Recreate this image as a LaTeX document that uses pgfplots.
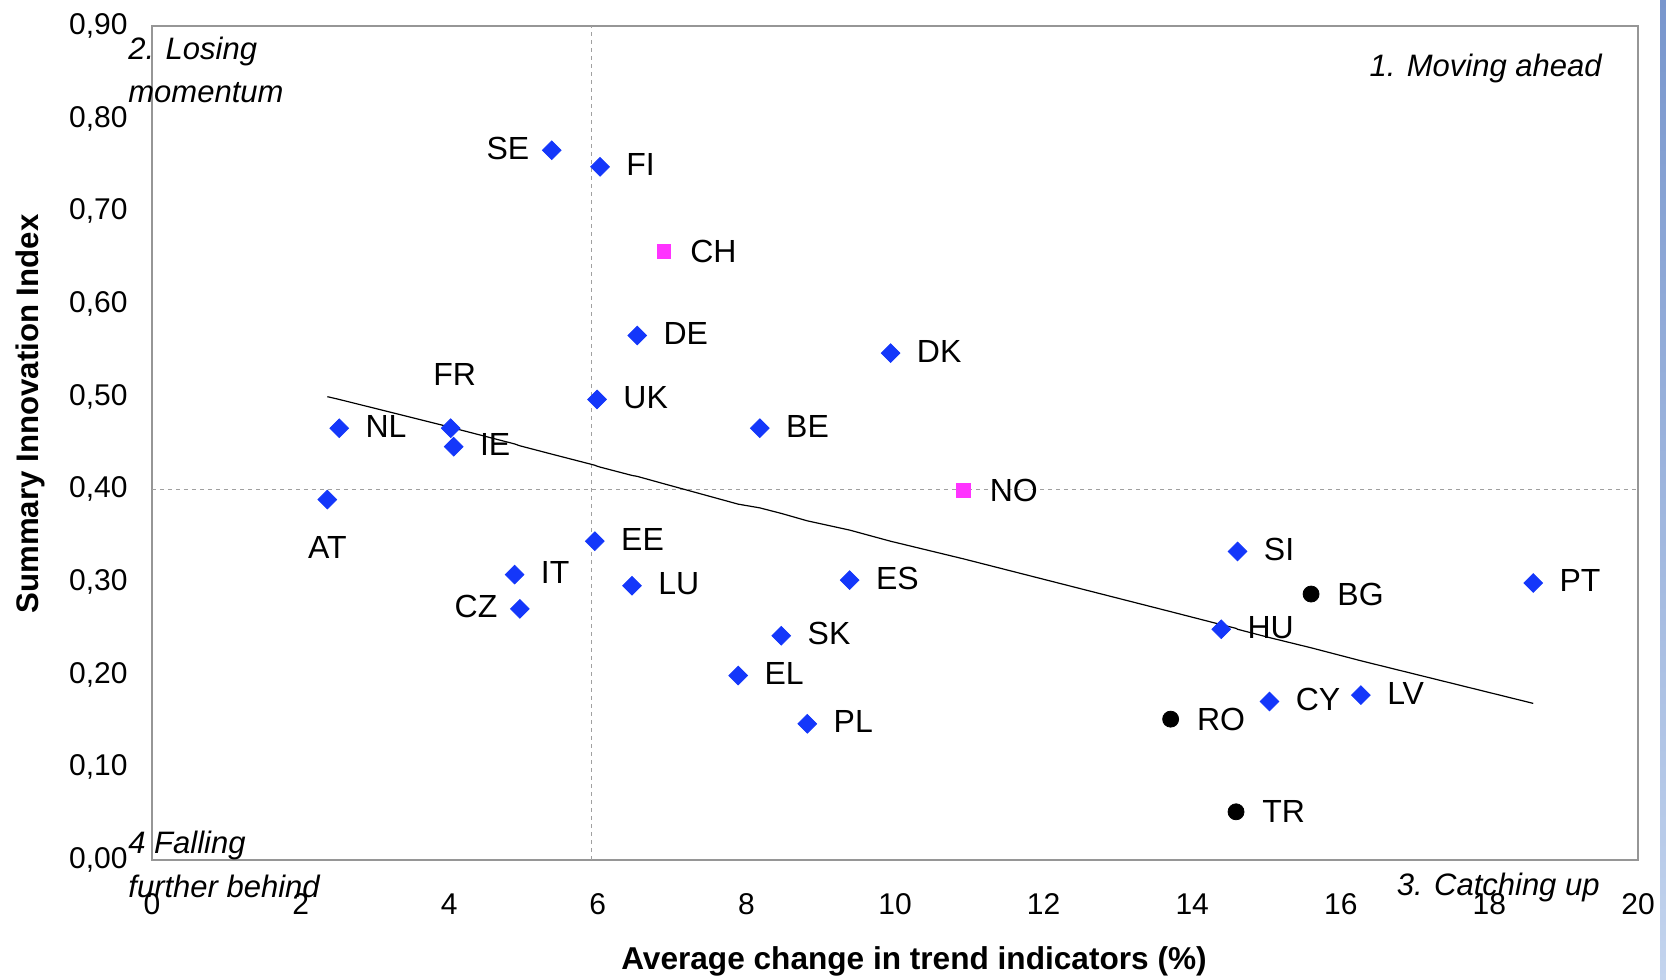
\documentclass[border=0pt]{standalone}
\usepackage{pgfplots}
\pgfplotsset{compat=1.18}
\usepackage{pgfplotstable}
\usepackage{fontspec}
\setmainfont{Liberation Sans}
\definecolor{eublue}{RGB}{20,55,250}
\definecolor{pinkm}{RGB}{255,51,255}
\definecolor{framegray}{RGB}{150,150,150}
\definecolor{gridgray}{RGB}{160,160,160}

\pgfplotstableread{
x y label
6.03 0.748 FI
6.53 0.566 DE
9.94 0.547 DK
5.99 0.497 UK
8.18 0.466 BE
4.06 0.446 IE
2.52 0.466 NL
5.96 0.344 EE
4.88 0.308 IT
6.46 0.296 LU
9.39 0.302 ES
8.47 0.242 SK
7.89 0.199 EL
8.82 0.147 PL
14.61 0.333 SI
14.39 0.249 HU
18.59 0.299 PT
15.04 0.171 CY
16.27 0.178 LV
}\bluer
\pgfplotstableread{
x y label
5.38 0.766 SE
4.95 0.271 CZ
}\bluel
\pgfplotstableread{
x y label
4.02 0.466 FR
}\blueabove
\pgfplotstableread{
x y label
2.36 0.389 AT
}\bluebelow
\pgfplotstableread{
x y label
6.89 0.657 CH
10.92 0.399 NO
}\pinkdata
\pgfplotstableread{
x y label
15.60 0.287 BG
13.71 0.152 RO
14.59 0.052 TR
}\blackdata

\begin{document}
\fontsize{15pt}{18pt}\selectfont
\begin{tikzpicture}
\useasboundingbox (-76pt,-60pt) rectangle (757pt,430pt);
\shade[top color={rgb,255:red,120;green,150;blue,205}, bottom color={rgb,255:red,195;green,212;blue,238}] (754pt,-60pt) rectangle (757pt,430pt);
\begin{axis}[
  at={(0pt,0pt)}, anchor=south west,
  scale only axis, width=743pt, height=417pt,
  xmin=0, xmax=20, ymin=0, ymax=0.9,
  xtick={0,2,4,6,8,10,12,14,16,18,20},
  ytick={0,0.1,0.2,0.3,0.4,0.5,0.6,0.7,0.8,0.9},
  major tick length=0pt,
  axis line style={framegray, line width=0.6pt},
  /pgf/number format/assume math mode=true,
  yticklabel style={/pgf/number format/.cd, fixed, fixed zerofill, precision=2, use comma, /tikz/.cd, anchor=east, inner sep=0pt, xshift=-12pt, font=\fontsize{15pt}{18pt}\selectfont},
  xticklabel style={anchor=center, inner sep=0pt, yshift=-22pt, font=\fontsize{15pt}{18pt}\selectfont},
  clip=false,
  point meta=explicit symbolic,
  nodes near coords,
  every node near coord/.append style={inner sep=0pt, font=\fontsize{16pt}{19pt}\selectfont, text=black},
]
% quadrant lines
\addplot[gridgray, dash pattern=on 2pt off 2pt, line width=0.6pt, no marks, nodes near coords={}] coordinates {(5.92,0) (5.92,0.9)};
\addplot[gridgray, dash pattern=on 2pt off 2pt, line width=0.6pt, no marks, nodes near coords={}] coordinates {(0,0.4) (20,0.4)};
% trend line
\addplot[black, line width=0.6pt, no marks, nodes near coords={}] coordinates {
(2.36,0.500) (2.52,0.497) (4.02,0.467) (4.06,0.466) (4.88,0.449) (4.95,0.447) (5.38,0.438)
(5.96,0.426) (5.99,0.425) (6.03,0.424) (6.46,0.415) (6.53,0.414) (6.89,0.406) (7.89,0.384)
(8.18,0.380) (8.47,0.374) (8.82,0.366) (9.39,0.356) (9.94,0.344) (10.92,0.325) (13.71,0.268)
(14.39,0.254) (14.59,0.250) (14.61,0.249) (15.04,0.240) (15.60,0.229) (16.27,0.215) (18.59,0.169)};
% markers
\addplot[only marks, mark=square*, mark size=3.3pt, mark options={rotate=45, fill=eublue, draw=eublue},
  every node near coord/.append style={anchor=west, xshift=13pt, yshift=1pt}]
  table[x=x, y=y, meta=label] {\bluer};
\addplot[only marks, mark=square*, mark size=3.3pt, mark options={rotate=45, fill=eublue, draw=eublue},
  every node near coord/.append style={anchor=east, xshift=-11pt, yshift=1pt}]
  table[x=x, y=y, meta=label] {\bluel};
\addplot[only marks, mark=square*, mark size=3.3pt, mark options={rotate=45, fill=eublue, draw=eublue},
  every node near coord/.append style={anchor=center, xshift=2pt, yshift=27pt}]
  table[x=x, y=y, meta=label] {\blueabove};
\addplot[only marks, mark=square*, mark size=3.3pt, mark options={rotate=45, fill=eublue, draw=eublue},
  every node near coord/.append style={anchor=center, yshift=-24pt}]
  table[x=x, y=y, meta=label] {\bluebelow};
\addplot[only marks, mark=square*, mark size=3.4pt, mark options={fill=pinkm, draw=pinkm},
  every node near coord/.append style={anchor=west, xshift=13pt, yshift=0pt}]
  table[x=x, y=y, meta=label] {\pinkdata};
\addplot[only marks, mark=*, mark size=4pt, mark options={fill=black, draw=black},
  every node near coord/.append style={anchor=west, xshift=13pt, yshift=0pt}]
  table[x=x, y=y, meta=label] {\blackdata};
\end{axis}
% axis titles
\node[rotate=90, anchor=center, font=\bfseries\fontsize{15.6pt}{18pt}\selectfont] at (-61pt,223pt) {Summary Innovation Index};
\node[anchor=center, font=\bfseries\fontsize{15.8pt}{18pt}\selectfont] at (381pt,-50.8pt) {Average change in trend indicators (\%)};
% quadrant labels
\begin{scope}[every node/.style={inner sep=0pt, font=\itshape\fontsize{15.5pt}{18pt}\selectfont}]
\node[anchor=base west] at (-12pt,400pt) {2. Losing};
\node[anchor=base west] at (-12pt,378.5pt) {momentum};
\node[anchor=base east] at (725pt,391.5pt) {1. Moving ahead};
\node[anchor=base west] at (-12pt,3.5pt) {4 Falling};
\node[anchor=base west] at (-12pt,-18.5pt) {further behind};
\node[anchor=base east] at (724pt,-17.5pt) {3. Catching up};
\end{scope}
\end{tikzpicture}
\end{document}
